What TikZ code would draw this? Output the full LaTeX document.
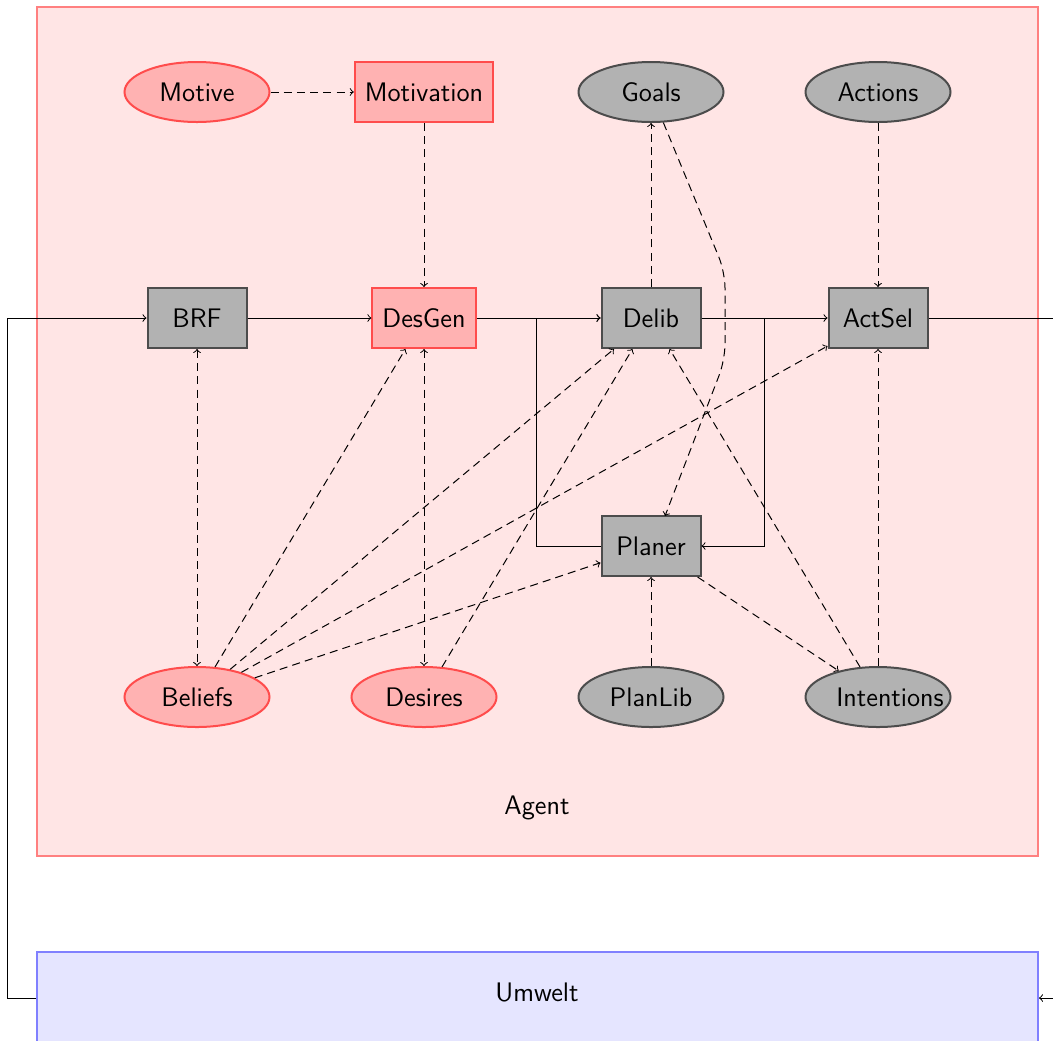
\documentclass[tikz,border=0pt]{standalone}
\usetikzlibrary{shapes.geometric,calc}
\begin{document}
\begin{tikzpicture}[
  x=0.5pt, y=-0.5pt,
  font=\sffamily\fontsize{13.4}{16}\selectfont,
  box/.style={rectangle, line width=1pt, minimum width=49.5pt, minimum height=30pt, inner xsep=5pt},
  oval/.style={ellipse, line width=1pt, minimum width=72.5pt, minimum height=30pt, inner sep=0pt},
  redbox/.style={box, draw=red!70, fill=red!30},
  greybox/.style={box, draw=black!70, fill=black!30},
  redoval/.style={oval, draw=red!70, fill=red!30},
  greyoval/.style={oval, draw=black!70, fill=black!30},
  flow/.style={->, line width=0.5pt},
  link/.style={->, line width=0.5pt, dash pattern=on 4pt off 2.6pt},
  both/.style={<->, line width=0.5pt, dash pattern=on 4pt off 2.6pt}
]
\useasboundingbox (0,0) rectangle (1053,1040);

% agent frame and environment
\draw[line width=1pt, draw=red!50, fill=red!10] (37,7) rectangle (1038,856);
\node (agentlabel) at (537,808) {Agent};
\node[rectangle, line width=1pt, draw=blue!50, fill=blue!10,
      minimum width=500.5pt, minimum height=46pt] (umwelt) at (537.5,998) {};
\node (umweltlabel) at (537,992) {Umwelt};

% top row
\node[redoval]  (motive)     at (197,92)  {Motive};
\node[redbox]   (motivation) at (424,92)  {Motivation};
\node[greyoval] (goals)      at (651,92)  {Goals};
\node[greyoval] (actions)    at (878,92)  {Actions};

% processing row
\node[greybox]  (brf)    at (197,318) {BRF};
\node[redbox]   (desgen) at (424,318) {DesGen};
\node[greybox]  (delib)  at (651,318) {Delib};
\node[greybox]  (actsel) at (878,318) {ActSel};
\node[greybox]  (planer) at (651,546) {Planer};

% bottom row
\node[redoval]  (beliefs)    at (197,697) {Beliefs};
\node[redoval]  (desires)    at (424,697) {Desires};
\node[greyoval] (planlib)    at (651,697) {PlanLib};
\node[greyoval] (intentions) at (878,697) {\makebox[0pt]{\hspace{12pt}Intentions}};

% main flow
\draw[flow] (umwelt.west) -- ++(-29,0) |- (brf.west);
\draw[flow] (brf) -- (desgen);
\draw[flow] (desgen) -- (delib);
\draw[flow] (delib) -- (actsel);
\draw[flow] (planer.west) -- ++(-64,0) |- (delib.west);
\draw[flow] (delib.east) -- ++(63,0) |- (planer.east);
\draw[flow] (actsel.east) -- ++(150,0) |- (umwelt.east);

% information links
\draw[link] (motive) -- (motivation);
\draw[link] (motivation) -- (desgen);
\draw[link] (delib) -- (goals);
\draw[link] (actions) -- (actsel);
\draw[link, rounded corners=8pt] (goals.-68) -- (725,272) -- (725,360) -- (665,516);
\draw[both] (brf) -- (beliefs);
\draw[both] (desgen) -- (desires);
\draw[link] (beliefs) -- (desgen);
\draw[link] (beliefs) -- (delib);
\draw[link] (beliefs) -- (actsel);
\draw[link] (beliefs) -- (planer);
\draw[link] (desires) -- (delib);
\draw[link] (intentions) -- (delib);
\draw[link] (intentions) -- (actsel);
\draw[link] (planer) -- (intentions);
\draw[link] (planlib) -- (planer);
\end{tikzpicture}
\end{document}
